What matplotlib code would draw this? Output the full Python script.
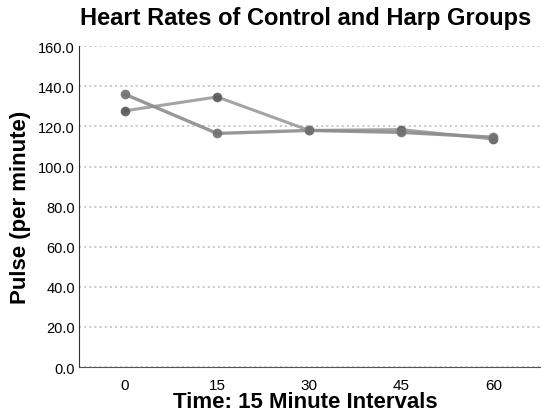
import matplotlib.pyplot as plt

# Heart rate readings
times = ['0', '15', '30', '45', '60']
control = [127.8, 134.7, 118.0, 118.4, 113.7]
harp = [136.0, 116.5, 118.0, 117.0, 114.6]
yticks = [0, 20, 40, 60, 80, 100, 120, 140, 160]

plt.rcParams['font.family'] = ['Liberation Sans', 'DejaVu Sans']

fig = plt.figure(figsize=(5.45, 4.14), dpi=100)
ax = fig.add_axes([0.145, 0.111, 0.845, 0.775])

x = list(range(len(times)))
ax.plot(x, control, color='#9a9a9a', lw=2.2, marker='o', ms=6,
        mfc='#555555', mec='#666666', alpha=0.9)
ax.plot(x, harp, color='#8c8c8c', lw=2.4, marker='o', ms=6,
        mfc='#707070', mec='#777777', alpha=0.9)

ax.set_xlim(-0.5, 4.5)
ax.set_ylim(0, 160)
ax.set_yticks(yticks)
ax.set_yticklabels([f'{v:.1f}' for v in yticks], fontsize=10.5)
ax.set_xticks(x)
ax.set_xticklabels(times, fontsize=11)
ax.tick_params(axis='both', length=0, pad=3)
ax.tick_params(axis='x', pad=8)

ax.grid(axis='y', color='#c8c8c8', ls=':', lw=1.4)
ax.set_axisbelow(True)
for s in ['top', 'right']:
    ax.spines[s].set_visible(False)
ax.spines['left'].set_color('#333333')
ax.spines['bottom'].set_color('#555555')

fig.text(0.56, 0.028, 'Time: 15 Minute Intervals', ha='center', va='center',
         fontsize=16, fontweight='bold')
ax.set_ylabel('Pulse (per minute)', fontsize=16, fontweight='bold', labelpad=5)
fig.text(0.56, 0.955, 'Heart Rates of Control and Harp Groups', ha='center', va='center',
         fontsize=17, fontweight='bold')

fig.savefig('out.png', dpi=100)
